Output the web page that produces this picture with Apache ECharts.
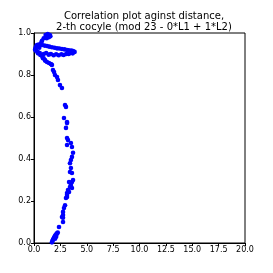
<!DOCTYPE html>
<html><head><meta charset="utf-8">
<script src="https://cdn.jsdelivr.net/npm/echarts@6/dist/echarts.min.js"></script>
<style>html,body{margin:0;padding:0;background:#fff}#c{width:273px;height:273px}</style>
</head><body><div id="c"></div>
<script>
var titleLines = ["Correlation plot aginst distance,", "2-th cocyle (mod 23 - 0*L1 + 1*L2)"];
var xTicks = [0.0, 2.5, 5.0, 7.5, 10.0, 12.5, 15.0, 17.5, 20.0];
var yTicks = [0.0, 0.2, 0.4, 0.6, 0.8, 1.0];
var xs = [
 1.1,1.3,1.5,1.4,1.2,1.55,1.25,
 0.92,0.76,0.69,
 0.28,0.13,0.19,0.38,0.6,0.1,0.2,0.35,
 0.76,1.23,1.7,2.18,2.65,3.13,3.54,3.85,1.0,1.45,1.95,2.4,2.9,3.3,3.7,
 0.92,1.39,1.86,2.34,2.81,3.29,3.67,1.15,1.6,2.1,2.6,3.05,3.5,
 0.5,0.55,0.45,
 0.92,1.07,
 0.76,0.85,1.04,1.23,1.42,1.6,1.7,1.8,1.9,1.99,2.18,2.27,2.46,2.65,
 2.94,3.03,2.84,3.13,3.13,3.03,3.13,3.22,3.13,3.5,3.6,3.7,3.6,3.5,3.41,3.5,3.41,3.6,3.7,3.6,3.32,3.5,3.41,3.6,3.22,3.32,3.13,3.13,3.13,3.03,2.94,2.84,2.75,2.75,2.65,2.75,2.75,2.37,
 2.25,2.2,2.1,2.0,1.95,1.9,1.85,1.8,1.75,1.7,2.0,2.1,2.15
];
var ys = [
 0.99,0.995,0.99,0.98,0.975,0.985,0.985,
 0.975,0.963,0.954,
 0.943,0.927,0.916,0.903,0.895,0.92,0.935,0.91,
 0.943,0.938,0.932,0.927,0.924,0.919,0.916,0.91,0.94,0.935,0.93,0.926,0.922,0.918,0.914,
 0.9,0.897,0.894,0.894,0.895,0.9,0.903,0.905,0.9,0.899,0.899,0.9,0.905,
 0.93,0.905,0.945,
 0.88,0.868,
 0.89,0.88,0.871,0.862,0.857,0.852,0.848,0.824,0.814,0.8,0.79,0.776,0.752,0.738,
 0.657,0.648,0.595,0.576,0.571,0.548,0.5,0.49,0.467,0.476,0.457,0.43,0.41,0.395,0.38,0.357,0.338,0.333,0.3,0.29,0.29,0.276,0.267,0.262,0.252,0.243,0.238,0.229,0.219,0.214,0.18,0.167,0.148,0.133,0.124,0.12,0.1,0.076,
 0.05,0.045,0.04,0.035,0.03,0.025,0.02,0.015,0.01,0.003,0.02,0.03,0.045
];
var pts = xs.map(function(x,i){return [x, ys[i]];});
var chart = echarts.init(document.getElementById('c'), null, {renderer:'canvas'});
var font = 'DejaVu Sans';
chart.setOption({
  animation:false,
  title:{text:titleLines.join('\n'), left:139, top:6, textAlign:'center',
    textStyle:{fontFamily:font,fontSize:10,fontWeight:'normal',color:'#000',lineHeight:11}},
  grid:{left:34,right:28,top:33,bottom:30,show:true,borderColor:'#000',borderWidth:1,backgroundColor:'#fff'},
  xAxis:{type:'value',min:xTicks[0],max:xTicks[xTicks.length-1],interval:2.5,
    axisLine:{show:true,lineStyle:{color:'#000',width:1}},
    axisTick:{show:true,inside:false,length:3,lineStyle:{color:'#000'}},
    splitLine:{show:false},
    axisLabel:{fontFamily:font,fontSize:8,color:'#000',margin:3,formatter:function(v){return v.toFixed(1);}}},
  yAxis:{type:'value',min:yTicks[0],max:yTicks[yTicks.length-1],interval:0.2,
    axisLine:{show:true,lineStyle:{color:'#000',width:1}},
    axisTick:{show:true,inside:false,length:3,lineStyle:{color:'#000'}},
    splitLine:{show:false},
    axisLabel:{fontFamily:font,fontSize:8,color:'#000',margin:3,formatter:function(v){return v.toFixed(1);}}},
  series:[{type:'scatter',data:pts,symbol:'circle',symbolSize:4.6,itemStyle:{color:'#0000ff',opacity:1}}]
});
</script></body></html>
